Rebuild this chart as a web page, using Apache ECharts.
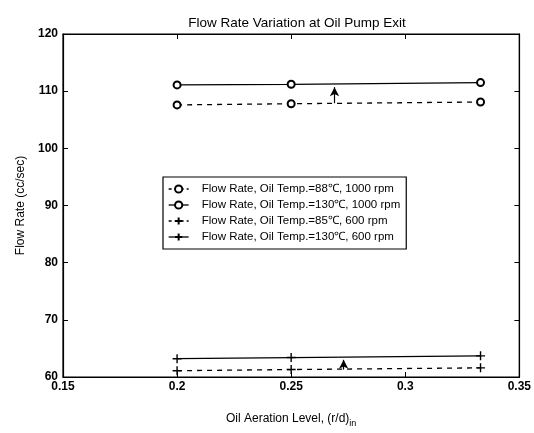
<!DOCTYPE html>
<html>
<head>
<meta charset="utf-8">
<script src="https://cdn.jsdelivr.net/npm/echarts@6/dist/echarts.min.js"></script>
<style>
  html, body { margin: 0; padding: 0; background: #fff; }
  #chart { width: 534px; height: 433px; }
</style>
</head>
<body>
<div id="chart"></div>
<script>
// Aeration levels (r/d)_in
const aeration = [0.2, 0.25, 0.333];

// Flow rate at the pump exit (cc/sec)
const flow88_1000 = [107.6, 107.8, 108.1];
const flow130_1000 = [111.1, 111.2, 111.5];
const flow85_600 = [61.1, 61.3, 61.6];
const flow130_600 = [63.2, 63.4, 63.7];

const seriesNames = [
  'Flow Rate, Oil Temp.=88\u2103, 1000 rpm',
  'Flow Rate, Oil Temp.=130\u2103, 1000 rpm',
  'Flow Rate, Oil Temp.=85\u2103, 600 rpm',
  'Flow Rate, Oil Temp.=130\u2103, 600 rpm'
];

// Arrows showing the temperature effect: [x, from, to]
const arrowHigh = [0.269, 107.9, 110.7];
const arrowLow = [0.273, 61.3, 63.0];

const plusPath = 'path://M0,5 L10,5 M5,0 L5,10';
const font = 'Liberation Sans, Arial, sans-serif';
const dashes = [5, 5];

function pairs(xs, ys) { return xs.map((x, i) => [x, ys[i]]); }

function lineSeries(name, ys, dashed, symbol) {
  return {
    name: name,
    type: 'line',
    data: pairs(aeration, ys),
    symbol: symbol,
    symbolSize: symbol === 'emptyCircle' ? 7 : 9,
    showSymbol: true,
    lineStyle: { color: '#000', width: 1.3, type: dashed ? dashes : 'solid' },
    itemStyle: { color: '#000', borderColor: '#000', borderWidth: 1.4 },
    emphasis: { disabled: true },
    z: 3
  };
}

function arrowLine(a) {
  return {
    silent: true,
    symbol: ['none', 'arrow'],
    symbolSize: [7, 9],
    label: { show: false },
    lineStyle: { color: '#000', width: 1.2, type: 'solid' },
    data: [[{ coord: [a[0], a[1]] }, { coord: [a[0], a[2]] }]]
  };
}

const series = [
  lineSeries(seriesNames[0], flow88_1000, true, 'emptyCircle'),
  lineSeries(seriesNames[1], flow130_1000, false, 'emptyCircle'),
  lineSeries(seriesNames[2], flow85_600, true, plusPath),
  lineSeries(seriesNames[3], flow130_600, false, plusPath)
];
series[0].markLine = arrowLine(arrowHigh);
series[2].markLine = arrowLine(arrowLow);

function legendItem(i, dashed) {
  return {
    name: seriesNames[i],
    lineStyle: { color: '#000', width: 1.3, type: dashed ? [3, 3] : 'solid' }
  };
}

const chart = echarts.init(document.getElementById('chart'));
chart.setOption({
  animation: false,
  backgroundColor: '#fff',
  title: {
    text: 'Flow Rate Variation at Oil Pump Exit',
    left: 292, top: 11, textAlign: 'center',
    textStyle: { fontFamily: font, fontSize: 13.5, fontWeight: 'normal', color: '#000' }
  },
  grid: { left: 63, right: 13, top: 34, bottom: 44, show: true, borderColor: '#000', borderWidth: 1.2 },
  legend: {
    orient: 'vertical',
    left: 163, top: 177,
    padding: [6, 6, 6, 5],
    itemGap: 4,
    itemWidth: 20, itemHeight: 9,
    backgroundColor: '#fff',
    borderColor: '#000', borderWidth: 1.2,
    textStyle: { fontFamily: font, fontSize: 11.5, color: '#000', padding: [0, 0, 0, 8] },
    data: [legendItem(0, true), legendItem(1, false), legendItem(2, true), legendItem(3, false)]
  },
  xAxis: [{
    type: 'value', min: 0.15, max: 0.35, interval: 0.05,
    name: '{a|Oil Aeration Level, (r/d)}{s|in}',
    nameLocation: 'middle', nameGap: 33,
    nameTextStyle: {
      rich: {
        a: { fontFamily: font, fontSize: 12, color: '#000' },
        s: { fontFamily: font, fontSize: 9, color: '#000', padding: [9, 0, 0, 0] }
      }
    },
    axisLine: { lineStyle: { color: '#000', width: 1.2 } },
    axisTick: { inside: true, length: 5, lineStyle: { color: '#000' } },
    axisLabel: { fontFamily: font, fontSize: 12, fontWeight: 'bold', color: '#000', margin: 4 },
    splitLine: { show: false }
  }, {
    type: 'value', min: 0.15, max: 0.35, interval: 0.05, position: 'top',
    axisLine: { lineStyle: { color: '#000', width: 1.2 } },
    axisTick: { inside: true, length: 5, lineStyle: { color: '#000' } },
    axisLabel: { show: false }, splitLine: { show: false }
  }],
  yAxis: [{
    type: 'value', min: 60, max: 120, interval: 10,
    name: 'Flow Rate (cc/sec)',
    nameLocation: 'middle', nameGap: 31,
    nameTextStyle: { fontFamily: font, fontSize: 12, color: '#000' },
    axisLine: { show: true, lineStyle: { color: '#000', width: 1.2 } },
    axisTick: { show: true, inside: true, length: 5, lineStyle: { color: '#000' } },
    axisLabel: { fontFamily: font, fontSize: 12, fontWeight: 'bold', color: '#000', margin: 5 },
    splitLine: { show: false }
  }, {
    type: 'value', min: 60, max: 120, interval: 10, position: 'right',
    axisLine: { show: true, lineStyle: { color: '#000', width: 1.2 } },
    axisTick: { show: true, inside: true, length: 5, lineStyle: { color: '#000' } },
    axisLabel: { show: false }, splitLine: { show: false }
  }],
  series: series
});
</script>
</body>
</html>
